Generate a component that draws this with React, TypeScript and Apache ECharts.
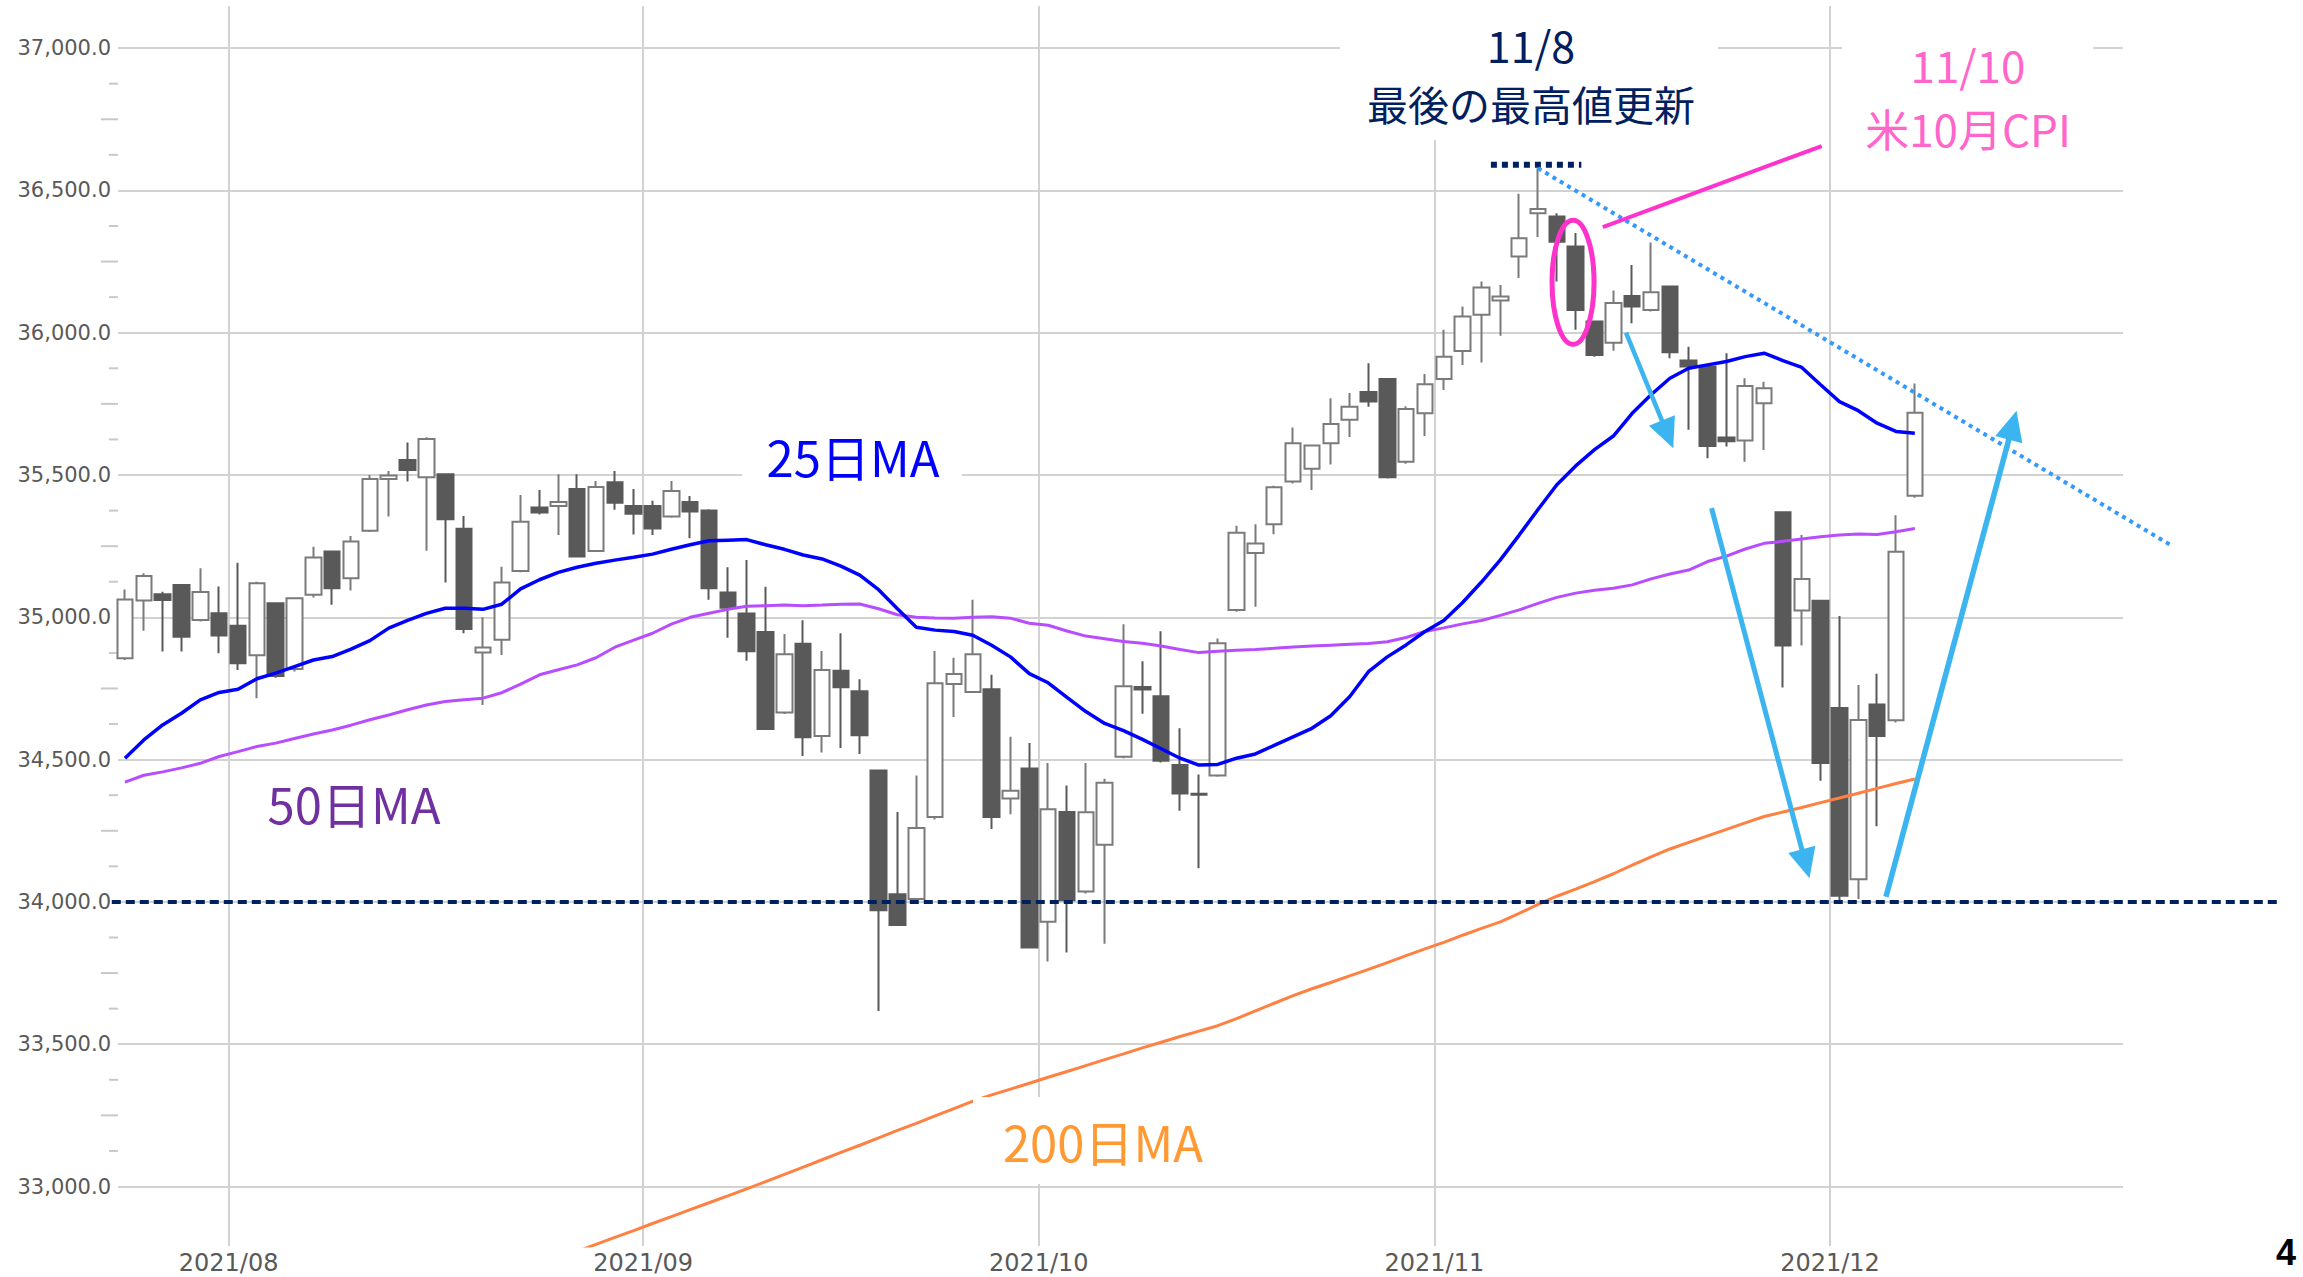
import React, { useEffect, useRef } from 'react';
import * as echarts from 'echarts';

// ---- data (Dow Jones daily candles, 2021/07/23 - 2021/12/07) ----
const dates = [
  '2021/07/23','2021/07/26','2021/07/27','2021/07/28','2021/07/29','2021/07/30',
  '2021/08/02','2021/08/03','2021/08/04','2021/08/05','2021/08/06','2021/08/09','2021/08/10','2021/08/11','2021/08/12','2021/08/13',
  '2021/08/16','2021/08/17','2021/08/18','2021/08/19','2021/08/20','2021/08/23','2021/08/24','2021/08/25','2021/08/26','2021/08/27',
  '2021/08/30','2021/08/31',
  '2021/09/01','2021/09/02','2021/09/03','2021/09/07','2021/09/08','2021/09/09','2021/09/10','2021/09/13','2021/09/14','2021/09/15',
  '2021/09/16','2021/09/17','2021/09/20','2021/09/21','2021/09/22','2021/09/23','2021/09/24','2021/09/27','2021/09/28','2021/09/29',
  '2021/09/30',
  '2021/10/01','2021/10/04','2021/10/05','2021/10/06','2021/10/07','2021/10/08','2021/10/11','2021/10/12','2021/10/13','2021/10/14',
  '2021/10/15','2021/10/18','2021/10/19','2021/10/20','2021/10/21','2021/10/22','2021/10/25','2021/10/26','2021/10/27','2021/10/28',
  '2021/10/29',
  '2021/11/01','2021/11/02','2021/11/03','2021/11/04','2021/11/05','2021/11/08','2021/11/09','2021/11/10','2021/11/11','2021/11/12',
  '2021/11/15','2021/11/16','2021/11/17','2021/11/18','2021/11/19','2021/11/22','2021/11/23','2021/11/24','2021/11/26','2021/11/29',
  '2021/11/30',
  '2021/12/01','2021/12/02','2021/12/03','2021/12/06','2021/12/07',
];

const opens = [
  34856,35059,35081,35114,34991,35014,34970,34867,35049,34818,
  35079,35231,35137,35304,35486,35553,35492,35503,35311,34876,
  34921,35163,35386,35391,35451,35233,35475,35391,35391,35354,
  35405,35375,35087,35013,34948,34666,34907,34583,34812,34740,
  34462,34027,34010,34298,34766,34738,34747,34363,34469,33930,
  34316,34037,34201,34510,34755,34723,34481,34380,34444,35026,
  35226,35327,35477,35522,35612,35694,35792,35837,35547,35717,
  35837,35936,36063,36113,36268,36420,36408,36303,36039,35965,
  36129,36080,36162,35902,35881,35632,35621,35752,35369,35024,
  35058,34681,34080,34694,34638,35427,
];
const closes = [
  35063,35145,35061,34932,35089,34936,34839,35120,34794,35067,
  35210,35102,35266,35486,35498,35518,35627,35345,34959,34894,
  35122,35336,35368,35405,35214,35458,35403,35364,35312,35444,
  35372,35102,35034,34881,34608,34870,34579,34815,34754,34586,
  33971,33919,34260,34768,34801,34870,34298,34391,33840,34326,
  34006,34315,34419,34758,34746,34496,34381,34377,34909,35297,
  35259,35457,35612,35604,35679,35740,35758,35492,35732,35819,
  35916,36057,36159,36127,36332,36435,36320,36080,35922,36104,
  36092,36142,35931,35881,35602,35619,35813,35805,34901,35135,
  34488,34022,34639,34583,35230,35719,
];
const lows = [
  34850,34953,34880,34880,34985,34874,34815,34716,34788,34810,
  35070,35044,35094,35300,35354,35477,35234,35122,34944,34692,
  34868,35158,35361,35289,35210,35230,35378,35291,35289,35350,
  35278,35062,34928,34847,34604,34660,34513,34525,34541,34520,
  33617,33915,34000,34290,34650,34735,34256,34308,33836,33791,
  33822,34030,33853,34505,34661,34490,34320,34118,34440,35020,
  35037,35292,35470,35447,35537,35634,35740,35488,35540,35637,
  35799,35887,35895,35989,36192,36336,36180,36010,35916,35937,
  36033,36075,35910,35659,35559,35600,35547,35588,34753,34901,
  34426,34006,34010,34266,34630,35420,
];
const highs = [
  35098,35155,35090,35117,35172,35108,35192,35125,35052,35070,
  35248,35235,35286,35500,35514,35614,35633,35506,35356,35000,
  35178,35430,35447,35503,35503,35479,35514,35451,35410,35479,
  35426,35380,35176,35201,35107,34941,34990,34882,34944,34782,
  34465,34316,34444,34882,34858,35062,34798,34580,34558,34488,
  34409,34488,34433,34976,34846,34951,34610,34448,34926,35322,
  35327,35462,35667,35606,35770,35788,35893,35840,35742,35855,
  36010,36092,36180,36168,36488,36578,36420,36350,36042,36148,
  36238,36317,36165,35951,35885,35928,35840,35828,35372,35289,
  35062,35005,34762,34802,35359,35822,
];

const ma25 = [
  34505,34569,34622,34663,34710,34736,34747,34784,34804,34827,
  34850,34862,34888,34918,34962,34989,35014,35032,35032,35028,
  35046,35100,35132,35158,35176,35190,35201,35211,35222,35239,
  35255,35269,35271,35273,35255,35239,35219,35205,35180,35148,
  35097,35030,34965,34955,34950,34937,34902,34861,34802,34770,
  34719,34669,34627,34602,34571,34538,34505,34481,34483,34505,
  34520,34550,34580,34610,34654,34721,34809,34861,34903,34950,
  34989,35052,35124,35202,35289,35379,35466,35532,35589,35637,
  35717,35782,35840,35875,35887,35899,35916,35928,35902,35878,
  35817,35758,35726,35682,35653,35647,
];
const ma50 = [
  34421,34445,34457,34471,34487,34511,34528,34546,34558,34574,
  34590,34604,34621,34640,34657,34675,34692,34704,34710,34716,
  34735,34765,34798,34816,34833,34858,34895,34920,34944,34976,
  35000,35014,35028,35039,35041,35043,35041,35043,35046,35047,
  35030,35009,35000,34998,34997,35000,35002,34997,34979,34972,
  34952,34934,34925,34915,34909,34899,34887,34876,34881,34884,
  34887,34891,34896,34899,34902,34905,34908,34914,34929,34950,
  34963,34977,34989,35007,35026,35049,35070,35085,35095,35102,
  35114,35135,35152,35166,35196,35215,35240,35260,35267,35275,
  35283,35289,35293,35291,35301,35312,
];
const ma200 = [
  null,null,null,null,null,null,null,null,null,null,
  null,null,null,null,null,null,null,null,null,null,
  null,null,null,null,32772,32797,32821,32845,32870,32894,
  32919,32943,32967,32992,33017,33043,33068,33094,33120,33145,
  33171,33197,33222,33248,33274,33300,33322,33342,33363,33384,
  33404,33425,33446,33466,33487,33507,33527,33546,33565,33590,
  33617,33644,33671,33695,33717,33740,33763,33787,33811,33835,
  33858,33883,33907,33930,33960,33991,34020,34045,34071,34099,
  34129,34158,34186,34209,34232,34255,34278,34300,34316,34332,
  34349,34365,34382,34399,34416,34432,
];

const yTickValues = [33000, 33500, 34000, 34500, 35000, 35500, 36000, 36500, 37000];
const supportLevel = 34000;

// annotation anchors (x = trading-day index, y = index value)
const supportSpan = [-0.7, 114.4];
const peakMarkSpan = { x1: 72.5, x2: 77.3, y: 36590 };
const trendLine = { from: [75, 36578], to: [108.6, 35253] };
const cpiEllipse = { center: [76.86, 36177] };
const cpiPointer = { from: [78.44, 36371], to: [90.06, 36656] };
const arrowShort = { from: [79.67, 36000], to: [82.18, 35594] };
const arrowDown = { from: [84.21, 35384], to: [89.41, 34083] };
const arrowUp = { from: [93.47, 34018], to: [100.4, 35726] };

// axis window
const X_MIN = -0.37;
const X_MAX = 106.05;
const Y_MIN = 32791;
const Y_MAX = 37148;

const fmtY = (v: number) =>
  v.toLocaleString('en-US', { minimumFractionDigits: 1, maximumFractionDigits: 1 });

export default function App() {
  const ref = useRef<HTMLDivElement>(null);

  useEffect(() => {
    document.body.style.margin = '0';
    document.body.style.overflow = 'hidden';
    const chart = echarts.init(ref.current!, null, { renderer: 'svg' });

    const candleData = dates.map((_, i) => [i, opens[i], closes[i], lows[i], highs[i]]);
    const toLine = (arr: (number | null)[]) => arr.map((v, i) => [i, v]);

    const monthStarts: { x: number; name: string }[] = [];
    dates.forEach((d, i) => {
      if (i > 0 && d.slice(5, 7) !== dates[i - 1].slice(5, 7)) {
        monthStarts.push({ x: i - 0.5, name: d.slice(0, 7) });
      }
    });

    const gridLineStyle = { color: '#d2d2d2', width: 2, type: 'solid' };

    chart.setOption({
      animation: false,
      backgroundColor: '#ffffff',
      grid: { left: 118, top: 6, width: 2005, height: 1240 },
      xAxis: { type: 'value', min: X_MIN, max: X_MAX, show: false, splitLine: { show: false } },
      yAxis: { type: 'value', min: Y_MIN, max: Y_MAX, show: false, splitLine: { show: false } },
      series: [
        {
          type: 'candlestick',
          name: 'DJIA',
          data: candleData,
          encode: { x: 0, y: [1, 2, 3, 4] },
          barWidth: 16,
          itemStyle: {
            color: '#ffffff',
            color0: '#595959',
            borderColor: '#7a7a7a',
            borderColor0: '#595959',
            borderWidth: 2,
          },
          markLine: {
            silent: true,
            z: 1,
            symbol: ['none', 'none'],
            lineStyle: gridLineStyle,
            label: {
              show: true,
              position: 'start',
              formatter: '{b}',
              distance: 7,
              color: '#595959',
              fontSize: 21,
              fontFamily: 'DejaVu Sans',
            },
            data: yTickValues.map((v) => ({ yAxis: v, name: fmtY(v) })),
          },
        },
        {
          type: 'line',
          name: '200日MA',
          data: toLine(ma200),
          showSymbol: false,
          lineStyle: { color: '#ff8040', width: 3 },
          markLine: {
            silent: true,
            z: 1,
            symbol: ['none', 'none'],
            lineStyle: gridLineStyle,
            label: {
              show: true,
              position: 'start',
              formatter: '{b}',
              distance: 5,
              color: '#595959',
              fontSize: 24,
              fontFamily: 'DejaVu Sans',
            },
            data: monthStarts.map((m) => ({ xAxis: m.x, name: m.name })),
          },
        },
        {
          type: 'line',
          name: '50日MA',
          data: toLine(ma50),
          showSymbol: false,
          lineStyle: { color: '#b84cff', width: 3 },
        },
        {
          type: 'line',
          name: '25日MA',
          data: toLine(ma25),
          showSymbol: false,
          lineStyle: { color: '#0000ff', width: 3.5 },
        },
      ],
    });

    const px = (x: number, y: number) =>
      chart.convertToPixel({ gridIndex: 0 }, [x, y]) as number[];

    const g: any[] = [];
    const gridLeft = px(X_MIN, 35000)[0];

    // minor y ticks
    for (let v = 33125; v < 37000; v += 125) {
      if (v % 500 === 0) continue;
      const y = px(0, v)[1];
      const len = v % 250 === 0 ? 17 : 9;
      g.push({
        type: 'line',
        shape: { x1: gridLeft - len, y1: y, x2: gridLeft, y2: y },
        style: { stroke: '#c8c8c8', lineWidth: 2 },
        z: 1,
        silent: true,
      });
    }

    const text = (
      t: string, x: number, y: number, size: number, color: string,
      family = '"Noto Sans CJK JP", sans-serif', weight = 'normal', align = 'center'
    ) => ({
      type: 'text',
      z: 120,
      silent: true,
      style: {
        text: t, x, y,
        fill: color,
        font: `${weight} ${size}px ${family}`,
        textAlign: align, align,
        textVerticalAlign: 'middle', verticalAlign: 'middle',
      },
    });
    const whiteBox = (x: number, y: number, w: number, h: number) => ({
      type: 'rect', z: 110, silent: true,
      shape: { x, y, width: w, height: h },
      style: { fill: '#ffffff' },
    });

    const arrow = (from: number[], to: number[], color: string, width: number) => {
      const [x1, y1] = px(from[0], from[1]);
      const [x2, y2] = px(to[0], to[1]);
      const dx = x2 - x1, dy = y2 - y1;
      const L = Math.hypot(dx, dy);
      const ux = dx / L, uy = dy / L;
      const headLen = 30, headHalf = 14;
      const bx = x2 - ux * headLen, by = y2 - uy * headLen;
      const nx = -uy, ny = ux;
      return [
        {
          type: 'line', z: 130, silent: true,
          shape: { x1, y1, x2: bx + ux * 3, y2: by + uy * 3 },
          style: { stroke: color, lineWidth: width },
        },
        {
          type: 'polygon', z: 130, silent: true,
          shape: {
            points: [
              [x2, y2],
              [bx + nx * headHalf, by + ny * headHalf],
              [bx - nx * headHalf, by - ny * headHalf],
            ],
          },
          style: { fill: color },
        },
      ];
    };

    // support line at 34,000
    {
      const [x1, y] = px(supportSpan[0], supportLevel);
      const [x2] = px(supportSpan[1], supportLevel);
      g.push({
        type: 'line', z: 100, silent: true,
        shape: { x1, y1: y, x2, y2: y },
        style: { stroke: '#002060', lineWidth: 4, lineDash: [9, 5] },
      });
    }

    // white boxes behind labels
    g.push(whiteBox(1340, 0, 378, 140));
    g.push(whiteBox(1842, 0, 251, 158));
    g.push(whiteBox(742, 428, 220, 60));
    g.push(whiteBox(973, 1097, 259, 87));

    // peak marker (dotted navy)
    {
      const [x1, y] = px(peakMarkSpan.x1, peakMarkSpan.y);
      const [x2] = px(peakMarkSpan.x2, peakMarkSpan.y);
      g.push({
        type: 'line', z: 125, silent: true,
        shape: { x1, y1: y, x2, y2: y },
        style: { stroke: '#002060', lineWidth: 6, lineDash: [6, 5] },
      });
    }

    // trend line (dotted light blue)
    {
      const [x1, y1] = px(trendLine.from[0], trendLine.from[1]);
      const [x2, y2] = px(trendLine.to[0], trendLine.to[1]);
      g.push({
        type: 'line', z: 125, silent: true,
        shape: { x1, y1, x2, y2 },
        style: { stroke: '#3399ff', lineWidth: 4, lineDash: [4, 4.5] },
      });
    }

    // CPI ellipse and pointer
    {
      const [cx, cy] = px(cpiEllipse.center[0], cpiEllipse.center[1]);
      g.push({
        type: 'ellipse', z: 126, silent: true,
        shape: { cx, cy, rx: 21, ry: 62 },
        style: { fill: 'none', stroke: '#ff33cc', lineWidth: 5 },
      });
      const [x1, y1] = px(cpiPointer.from[0], cpiPointer.from[1]);
      const [x2, y2] = px(cpiPointer.to[0], cpiPointer.to[1]);
      g.push({
        type: 'line', z: 126, silent: true,
        shape: { x1, y1, x2, y2 },
        style: { stroke: '#ff33cc', lineWidth: 4 },
      });
    }

    // arrows
    g.push(...arrow(arrowShort.from, arrowShort.to, '#3bb4f0', 4.5));
    g.push(...arrow(arrowDown.from, arrowDown.to, '#3bb4f0', 5));
    g.push(...arrow(arrowUp.from, arrowUp.to, '#3bb4f0', 5.5));

    // texts
    g.push(text('11/8', 1531, 44, 43, '#002060'));
    g.push(text('最後の最高値更新', 1531, 103, 41, '#002060'));
    g.push(text('11/10', 1968, 64, 44, '#ff66cc'));
    g.push(text('米10月CPI', 1968, 128, 44, '#ff66cc'));
    g.push(text('25日MA', 853, 455, 49, '#0000ff'));
    g.push(text('50日MA', 354, 802, 49, '#7030a0'));
    g.push(text('200日MA', 1103, 1140, 49, '#ff9933'));
    g.push(text('4', 2276, 1252, 36, '#000000', '"Liberation Sans", Arial, sans-serif', 'bold', 'left'));

    chart.setOption({ graphic: { elements: g } });

    return () => chart.dispose();
  }, []);

  return <div ref={ref} style={{ width: 2303, height: 1277 }} />;
}
